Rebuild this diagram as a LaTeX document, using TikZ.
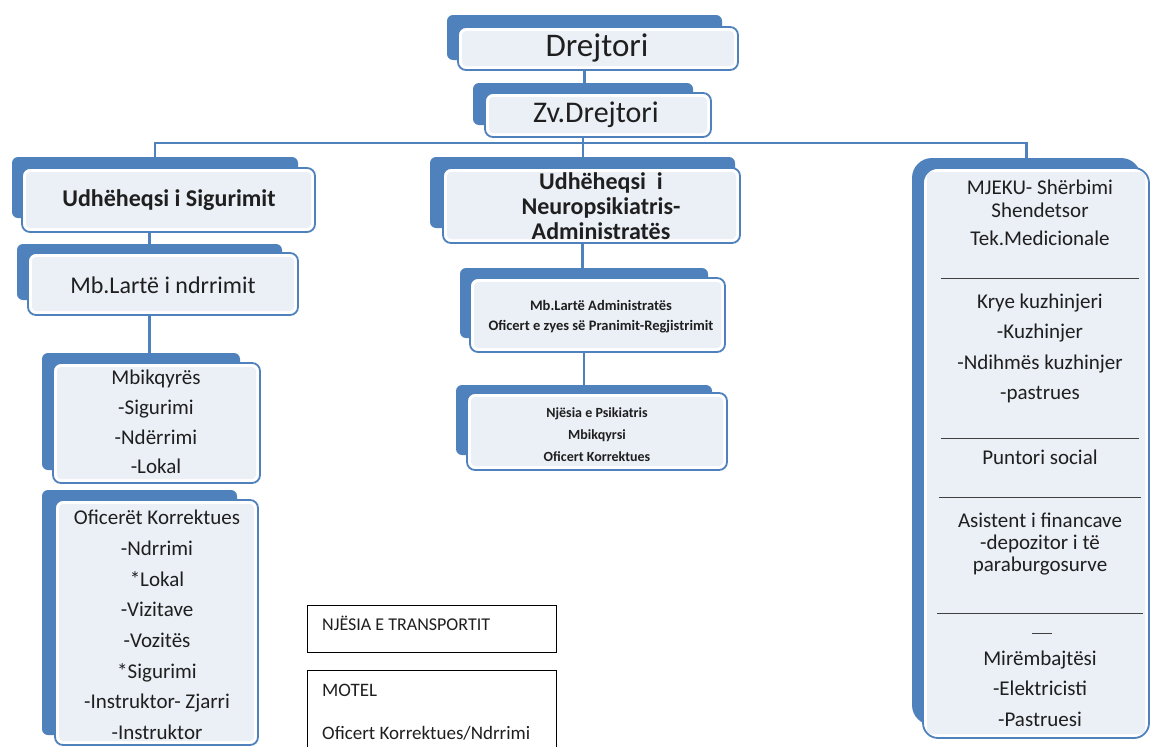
\documentclass[tikz,border=0pt]{standalone}
\usepackage{fontspec}
\setmainfont{Carlito}
\usetikzlibrary{fit,backgrounds}
\definecolor{boxblue}{HTML}{4F81BD}
\definecolor{boxfill}{HTML}{EBEFF6}
\definecolor{txt}{HTML}{1F1F1F}
\newcommand\fs[2]{\fontsize{#1}{#2}\selectfont}
\begin{document}
\begin{tikzpicture}[x=1pt,y=-1pt,
  backbox/.style={fill=boxblue, draw=none, inner sep=0pt, rounded corners=6pt},
  frontbox/.style={fill=white, draw=boxblue, line width=1.8pt, inner sep=0pt, rounded corners=8pt,
     path picture={\fill[boxfill, rounded corners=4pt] ([xshift=4pt,yshift=-4pt]path picture bounding box.north west) rectangle ([xshift=-4pt,yshift=4pt]path picture bounding box.south east);}},
  conn/.style={draw=boxblue, line width=2.2pt},
  lbl/.style={text=txt, inner sep=0pt, align=center},
  rulel/.style={draw=black!75, line width=0.9pt},
  plain/.style={draw=black, line width=1pt, fill=white, inner sep=0pt}]
\path[use as bounding box] (0,0) rectangle (1152,747);
\clip (0,0) rectangle (1152,747);

% Drejtori
\node[backbox, fit={(447,15) (722,60)}] (dB) {};
\node[frontbox, fit={(458,27) (738,70)}] (d) {};
\node[lbl, font=\fs{33}{40}] (dT) at (597,48) {Drejtori};

% Zv.Drejtori
\node[backbox, fit={(473,83) (693,125)}] (zB) {};
\node[frontbox, fit={(485,93) (711,137)}] (z) {};
\node[lbl, font=\fs{30}{36}] (zT) at (596,115) {Zv.Drejtori};

% Udheheqsi i Sigurimit
\node[backbox, fit={(12,157) (298,218)}] (uB) {};
\node[frontbox, fit={(22,168) (315,232)}] (u) {};
\node[lbl, font=\bfseries\fs{24}{28}] (uT) at (169,200) {Udhëheqsi i Sigurimit};

% Mb.Larte i ndrrimit
\node[backbox, fit={(17,244) (282,300)}] (mlB) {};
\node[frontbox, fit={(28,253) (298,315)}] (ml) {};
\node[lbl, font=\fs{24}{28}] (mlT) at (163,285) {Mb.Lartë i ndrrimit};

% Mbikqyres
\node[backbox, fit={(42,353) (240,470)}] (mbB) {};
\node[frontbox, fit={(53,363) (260,483)}] (mb) {};
\node[lbl, font=\fs{21}{29.7}] (mbT) at (156,422) {Mbikqyrës\\-Sigurimi\\-Ndërrimi\\-Lokal};

% Oficeret Korrektues
\node[backbox, fit={(42,490) (237,735)}] (ofB) {};
\node[frontbox, fit={(55,500) (258,745)}] (of) {};
\node[lbl, font=\fs{21}{30.7}] (ofT) at (157,625) {Oficerët Korrektues\\-Ndrrimi\\*Lokal\\-Vizitave\\-Vozitës\\*Sigurimi\\-Instruktor- Zjarri\\-Instruktor};

% Udheheqsi i Neuropsikiatris
\node[backbox, fit={(430,157) (735,228)}] (nB) {};
\node[frontbox, fit={(443,168) (740,243)}] (n) {};
\node[lbl, font=\bfseries\fs{24}{25}] (nT) at (601,206) {Udhëheqsi~ i\\Neuropsikiatris-\\Administratës};

% Mb.Larte Administrates
\node[backbox, fit={(460,268) (708,338)}] (maB) {};
\node[frontbox, fit={(470,278) (725,352)}] (ma) {};
\node[lbl, font=\bfseries\fs{14.5}{20}] (maT) at (601,317) {Mb.Lartë Administratës\\Oficert e zyes së Pranimit-Regjistrimit};

% Njesia e Psikiatris
\node[backbox, fit={(456,385) (712,455)}] (njB) {};
\node[frontbox, fit={(467,393) (727,470)}] (nj) {};
\node[lbl, font=\bfseries\fs{14}{22}] (njT) at (597,435) {Njësia e Psikiatris\\Mbikqyrsi\\Oficert Korrektues};

% Right column
\node[backbox, rounded corners=20pt, fit={(912,158) (1141,725)}] (rB) {};
\node[frontbox, rounded corners=15pt, fit={(923,168) (1149,738)}] (r) {};
\node[lbl, font=\fs{21}{23}] (r1) at (1040,198.5) {MJEKU- Shërbimi\\Shendetsor};
\node[lbl, font=\fs{21}{23}] (r2) at (1040,238) {Tek.Medicionale};
\node[lbl, font=\fs{21}{30.3}] (r3) at (1040,348.5) {Krye kuzhinjeri\\-Kuzhinjer\\-Ndihmës kuzhinjer\\-pastrues};
\node[lbl, font=\fs{21}{23}] (r4) at (1040,457) {Puntori social};
\node[lbl, font=\fs{21}{23}] (r5) at (1040,520) {Asistent i financave};
\node[lbl, font=\fs{21}{22}] (r6) at (1040,555) {-depozitor i të\\paraburgosurve};
\node[lbl, font=\fs{21}{30.5}] (r7) at (1040,688.5) {Mirëmbajtësi\\-Elektricisti\\-Pastruesi};
\draw[rulel] (941,278) -- (1139,278);
\draw[rulel] (941,438) -- (1139,438);
\draw[rulel] (939,497) -- (1141,497);
\draw[rulel] (937,613) -- (1143,613);
\draw[rulel] (1032,633) -- (1052,633);

% Plain boxes
\node[plain, fit={(307,605) (556,652)}] (tr) {};
\node[lbl, anchor=west, font=\fs{18}{22}] (trT) at (322,623) {NJËSIA E TRANSPORTIT};
\node[plain, fit={(307,670) (556,760)}] (mo) {};
\node[lbl, anchor=west, font=\fs{19}{22}] (mo1) at (322,690) {MOTEL};
\node[lbl, anchor=west, font=\fs{19}{22}] (mo2) at (322,733) {Oficert Korrektues/Ndrrimi};

% Connectors
\begin{scope}[on background layer]
\coordinate (hy) at (0,143);
\draw[conn] (dB.center) -- (dB.center |- zB.center);
\draw[conn] (zB.center) -- (zB.center |- hy);
\draw[conn] (uB.center) -- (uB.center |- hy) -- (rB.center |- hy) -- (rB.center);
\draw[conn] (zB.center |- hy) -- (zB.center |- nB.center);
\draw[conn] (nB.center) -- (nB.center |- maB.center);
\draw[conn] (maB.center) -- (maB.center |- njB.center);
\draw[conn] (mlB.center |- uB.center) -- (mlB.center);
\draw[conn] (mlB.center) -- (mlB.center |- mbB.center);
\end{scope}
\end{tikzpicture}
\end{document}
